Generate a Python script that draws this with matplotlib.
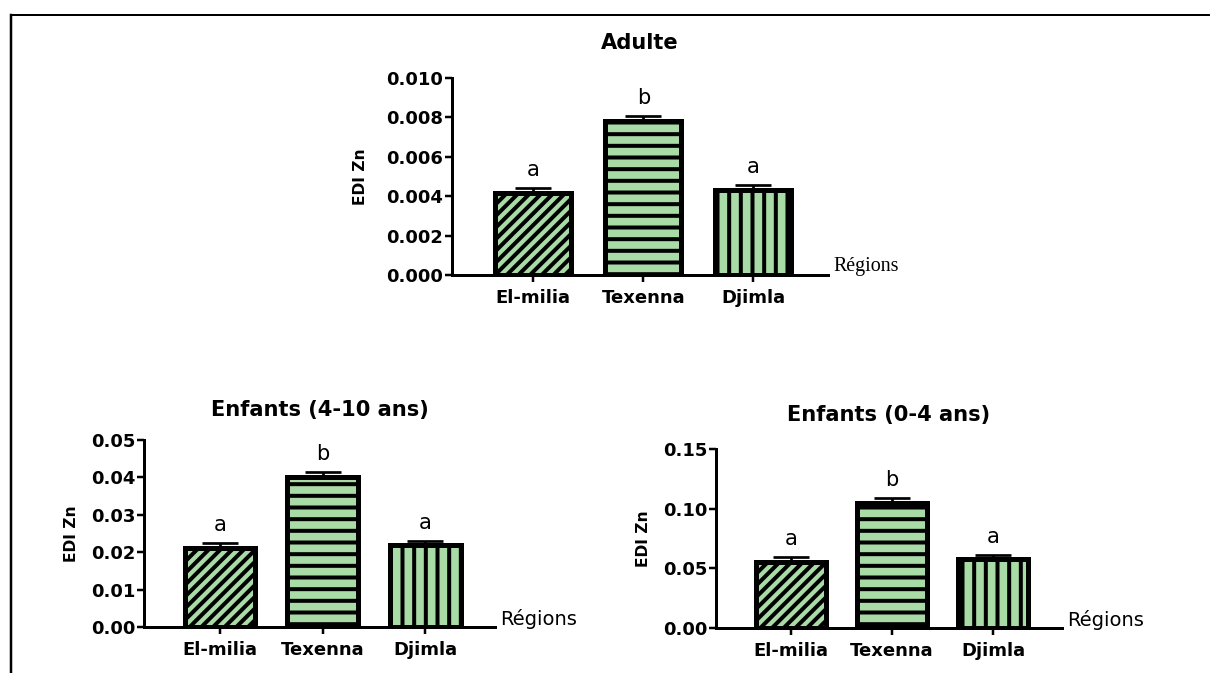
import numpy as np
import matplotlib
matplotlib.use("Agg")
import matplotlib.pyplot as plt
from matplotlib.lines import Line2D

# EDI Zn by region, mean and SEM for each age group
regions = ["El-milia", "Texenna", "Djimla"]
letters = ["a", "b", "a"]

adult_mean = [0.00418, 0.00784, 0.00430]
adult_sem = [0.00025, 0.00025, 0.00027]

kids_4_10_mean = [0.0211, 0.0402, 0.0220]
kids_4_10_sem = [0.0013, 0.0013, 0.0011]

kids_0_4_mean = [0.0556, 0.1047, 0.0578]
kids_0_4_sem = [0.0036, 0.0043, 0.0037]

hatches = ["//", "-", "|"]
fill = "#a9dba6"

W, H, DPI = 1210, 673, 70
# hatch spacing scales with dpi, so sizes below are given in pixels
PX = 72 / DPI

plt.rcParams["hatch.linewidth"] = 4 * PX
plt.rcParams["font.family"] = "DejaVu Sans"

fig = plt.figure(figsize=(W / DPI, H / DPI), dpi=DPI)


def plot_group(ax, means, sems, ymax, step, fmt, title, title_pad,
               ylabel_pad, serif_regions=False):
    x = np.arange(len(regions))
    ax.errorbar(x, means, yerr=[np.zeros(len(sems)), sems], fmt="none",
                ecolor="black", elinewidth=2.7 * PX, capsize=18 * PX,
                capthick=2.7 * PX, zorder=3)
    for xi, m, h in zip(x, means, hatches):
        ax.bar(xi, m, width=0.69, color=fill, edgecolor="black",
               linewidth=5 * PX, hatch=h, zorder=2)
    for xi, m, s, lab in zip(x, means, sems, letters):
        ax.annotate(lab, xy=(xi, m + s), xytext=(0, 12 * PX),
                    textcoords="offset points", ha="center", va="baseline",
                    fontsize=21 * PX)

    ax.set_xlim(-0.74, 2.68)
    ax.set_ylim(0, ymax)
    ax.set_yticks(np.arange(0, ymax + step / 2, step))
    ax.yaxis.set_major_formatter(plt.FormatStrFormatter(fmt))
    ax.set_xticks(x)
    ax.set_xticklabels(regions)

    for side in ["top", "right"]:
        ax.spines[side].set_visible(False)
    for side in ["left", "bottom"]:
        ax.spines[side].set_linewidth(3 * PX)

    ax.tick_params(axis="both", length=7 * PX, width=2.5 * PX,
                   labelsize=18 * PX)
    ax.tick_params(axis="y", pad=2 * PX)
    ax.tick_params(axis="x", pad=7 * PX)
    for t in ax.get_xticklabels() + ax.get_yticklabels():
        t.set_fontweight("bold")

    ax.set_ylabel("EDI Zn", fontsize=15.5 * PX, fontweight="bold",
                  labelpad=ylabel_pad * PX)
    ax.set_title(title, fontsize=21 * PX, fontweight="bold",
                 pad=title_pad * PX)

    if serif_regions:
        ax.annotate("Régions", xy=(1, 0), xycoords="axes fraction",
                    xytext=(5 * PX, 3.5 * PX), textcoords="offset points",
                    va="baseline", fontsize=20 * PX,
                    family="Liberation Serif")
    else:
        ax.annotate("Régions", xy=(1, 0), xycoords="axes fraction",
                    xytext=(5 * PX, 2 * PX), textcoords="offset points",
                    va="baseline", fontsize=19.5 * PX)


ax1 = fig.add_axes([452 / W, 1 - 275 / H, 376 / W, 197 / H])
plot_group(ax1, adult_mean, adult_sem, 0.010, 0.002, "%.3f", "Adulte",
           29, 18, serif_regions=True)

ax2 = fig.add_axes([144 / W, 1 - 627 / H, 351 / W, 187 / H])
plot_group(ax2, kids_4_10_mean, kids_4_10_sem, 0.05, 0.01, "%.2f",
           "Enfants (4-10 ans)", 24, 12)

ax3 = fig.add_axes([716 / W, 1 - 628 / H, 346 / W, 179 / H])
plot_group(ax3, kids_0_4_mean, kids_0_4_sem, 0.15, 0.05, "%.2f",
           "Enfants (0-4 ans)", 28, 12)

# page frame (top and left edges only)
fig.add_artist(Line2D([11 / W, 1], [1 - 15 / H, 1 - 15 / H],
                      transform=fig.transFigure, color="black", lw=2 * PX))
fig.add_artist(Line2D([11 / W, 11 / W], [0, 1 - 15 / H],
                      transform=fig.transFigure, color="black", lw=2.5 * PX))

fig.savefig("out.png", dpi=DPI)
